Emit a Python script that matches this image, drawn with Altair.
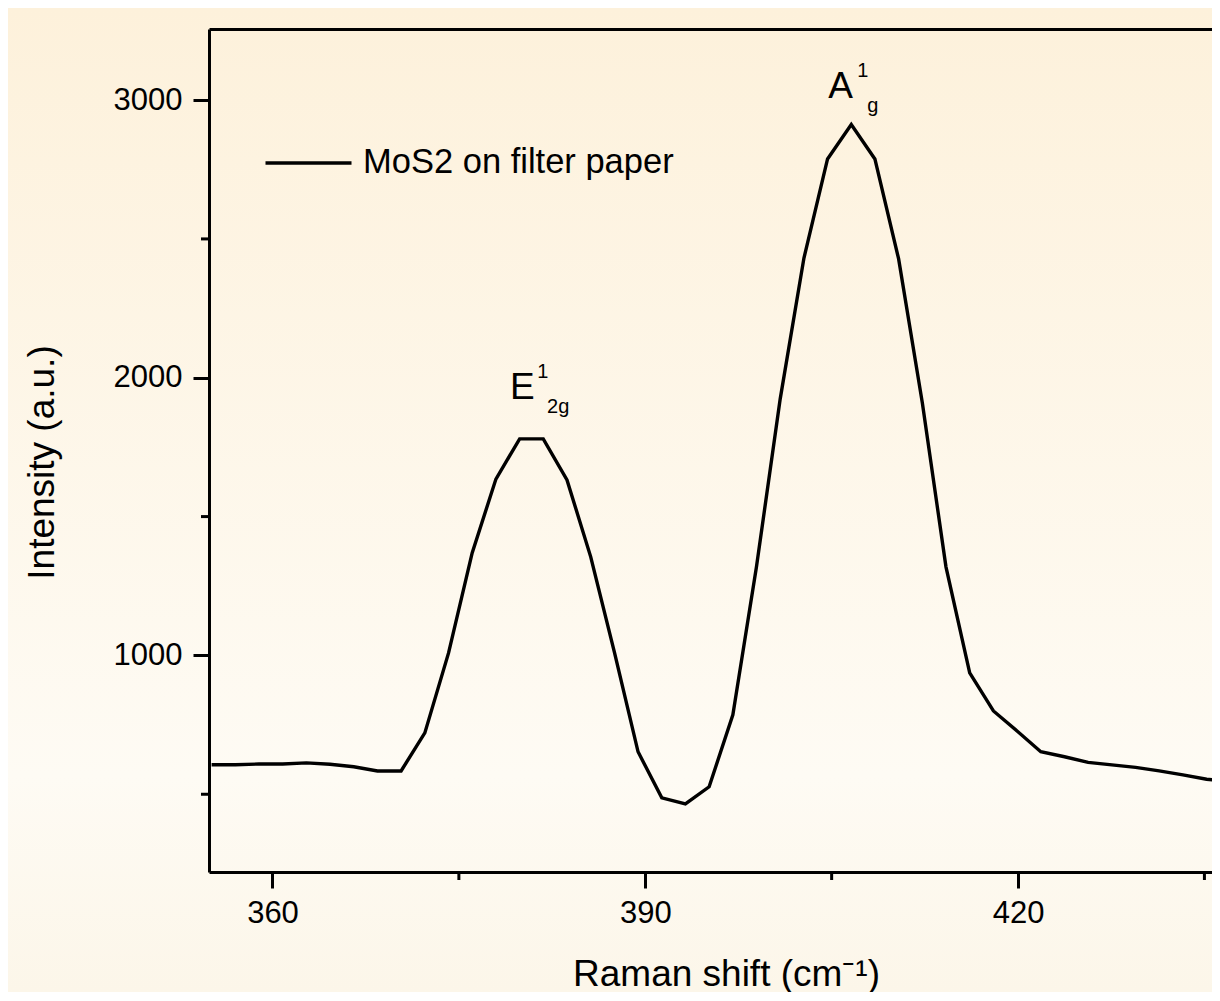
import altair as alt
import pandas as pd

# ---------------- data ----------------
raman_shift = [355.10, 357.01, 358.91, 360.82, 362.73, 364.63, 366.54, 368.45,
               370.35, 372.26, 374.17, 376.07, 377.98, 379.89, 381.79, 383.70,
               385.61, 387.51, 389.42, 391.33, 393.23, 395.14, 397.05, 398.95,
               400.86, 402.77, 404.67, 406.58, 408.48, 410.39, 412.30, 414.20,
               416.11, 418.02, 419.92, 421.83, 423.74, 425.64, 427.55, 429.46,
               431.36, 433.27, 435.18, 437.08]
intensity = [606, 606, 609, 609, 613, 608, 599, 584,
             584, 721, 1009, 1369, 1635, 1780, 1780, 1632,
             1355, 1013, 653, 487, 465, 527, 786, 1319,
             1924, 2431, 2788, 2912, 2788, 2428, 1909, 1319,
             937, 800, 728, 653, 635, 615, 606, 597,
             584, 570, 554, 545]
series_name = "MoS2 on filter paper"

x_major = [360, 390, 420]
x_minor = [375, 405, 435]
y_major = [1000, 2000, 3000]
y_minor = [500, 1500, 2500]

peak_letters = ["E", "A"]
peak_letter_x = [379.12, 404.73]
peak_letter_y = [1923, 3007]
peak_small = ["1", "2g", "1", "g"]
peak_small_x = [381.30, 382.10, 407.06, 407.86]
peak_small_y = [1999, 1873, 3083, 2957]

# ---------------- layout / style ----------------
W, H = 1003, 843
FONT = "Liberation Sans"

df = pd.DataFrame({"shift": raman_shift, "intensity": intensity,
                   "series": [series_name] * len(raman_shift)})

xscale = alt.Scale(domain=[354.89, 435.61], nice=False, zero=False)
yscale = alt.Scale(domain=[220, 3256], nice=False, zero=False)

bg = alt.Chart(pd.DataFrame({"d": [0]})).mark_rect(
    fill=alt.LinearGradient(
        gradient="linear",
        stops=[alt.GradientStop(color="#FDF1DB", offset=0),
               alt.GradientStop(color="#FEFBF4", offset=0.78),
               alt.GradientStop(color="#FCF6E9", offset=1)],
        x1=0, x2=0, y1=0, y2=1),
    strokeWidth=0,
).encode(x=alt.value(-201), x2=alt.value(W), y=alt.value(-21), y2=alt.value(H + 120))

line = alt.Chart(df).mark_line(strokeWidth=3.4, clip=True).encode(
    x=alt.X("shift:Q", scale=xscale,
            axis=alt.Axis(orient="bottom", values=x_major, format="d",
                          tickSize=16, tickWidth=3, tickColor="black",
                          domainWidth=3, domainColor="black",
                          labelFont=FONT, labelFontSize=31, labelColor="black",
                          labelPadding=10, labelFlush=False, labelOverlap=False,
                          title="Raman shift (cm⁻¹)", titleFont=FONT,
                          titleFontSize=37, titleFontWeight="normal",
                          titleColor="black", titleX=517, titleY=113,
                          titleAlign="center", titleBaseline="alphabetic",
                          grid=False, zindex=1)),
    y=alt.Y("intensity:Q", scale=yscale,
            axis=alt.Axis(orient="left", values=y_major, format="d",
                          tickSize=16, tickWidth=3, tickColor="black",
                          domainWidth=3, domainColor="black",
                          labelFont=FONT, labelFontSize=31, labelColor="black",
                          labelPadding=11, labelFlush=False, labelOverlap=False,
                          title="Intensity (a.u.)", titleFont=FONT,
                          titleFontSize=37, titleFontWeight="normal",
                          titleColor="black", titleX=-156, titleY=433,
                          titleAngle=270, titleAlign="center",
                          titleBaseline="alphabetic", grid=False, zindex=1)),
    color=alt.Color("series:N", scale=alt.Scale(range=["black"]),
                    legend=alt.Legend(title=None, orient="none",
                                      legendX=54.5, legendY=89,
                                      symbolType="stroke", symbolSize=7396,
                                      symbolStrokeWidth=3.5, padding=0,
                                      labelFont=FONT, labelFontSize=34.5,
                                      labelColor="black", labelOffset=9.5,
                                      labelLimit=0)),
)

minor_x = alt.Chart(pd.DataFrame({"v": x_minor})).mark_rule(
    strokeWidth=3, color="black").encode(
    x=alt.X("v:Q", scale=xscale,
            axis=alt.Axis(orient="top", labels=False, ticks=False, title=None,
                          domainWidth=3, domainColor="black", grid=False,
                          values=x_major, zindex=1)),
    y=alt.value(H), y2=alt.value(H + 8))

minor_y = alt.Chart(pd.DataFrame({"intensity": y_minor})).mark_rule(
    strokeWidth=3, color="black").encode(
    y=alt.Y("intensity:Q", scale=yscale),
    x=alt.value(-8), x2=alt.value(0))

letters = alt.Chart(pd.DataFrame({"t": peak_letters, "x": peak_letter_x,
                                  "intensity": peak_letter_y})).mark_text(
    font=FONT, fontSize=37, align="left", baseline="alphabetic", color="black"
).encode(x=alt.X("x:Q", scale=xscale, axis=None),
         y=alt.Y("intensity:Q", scale=yscale), text="t:N")

smalls = alt.Chart(pd.DataFrame({"t": peak_small, "x": peak_small_x,
                                 "intensity": peak_small_y})).mark_text(
    font=FONT, fontSize=20, align="left", baseline="alphabetic", color="black"
).encode(x=alt.X("x:Q", scale=xscale, axis=None),
         y=alt.Y("intensity:Q", scale=yscale), text="t:N")

chart = alt.layer(bg, line, minor_x, minor_y, letters, smalls).properties(
    width=W, height=H,
    autosize=alt.AutoSizeParams(type="none"),
    padding={"left": 201, "top": 21, "right": 0, "bottom": 120},
    background="#FEF8EC",
).configure_view(stroke=None).configure_axis(zindex=1)

chart.save("out.html", embed_options={"renderer": "svg", "actions": False})
